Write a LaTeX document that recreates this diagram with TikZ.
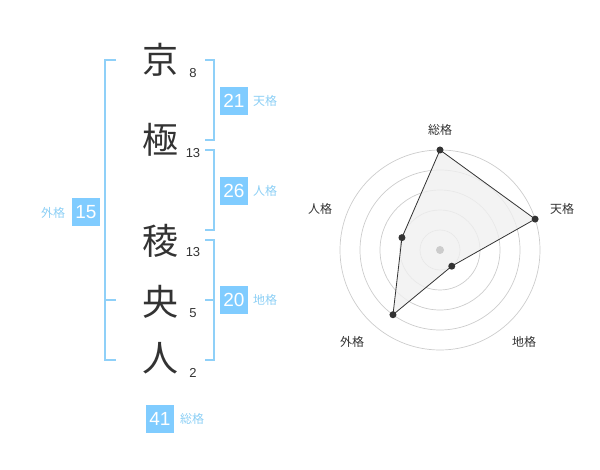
\documentclass[tikz,border=0pt]{standalone}
\usepackage{fontspec}
\setmainfont{Noto Sans CJK JP}
\newfontfamily\numfont{Liberation Sans}
\usetikzlibrary{calc}
\usepackage{xcolor}
\definecolor{kakuBlue}{HTML}{80CCFF}
\definecolor{kakuLine}{HTML}{8FD0F8}
\definecolor{kakuText}{HTML}{8CCFF5}
\definecolor{inkGray}{HTML}{333333}
\definecolor{ringGray}{HTML}{CCCCCC}
\definecolor{fillGray}{HTML}{F0F0F0}

\begin{document}
\begin{tikzpicture}[x=1pt,y=-1pt,
    kanji/.style={font=\fontsize{36}{36}\selectfont, text=inkGray, inner sep=0pt},
    strokes/.style={font=\numfont\fontsize{13}{13}\selectfont, text=inkGray, inner sep=0pt},
    kakubox/.style={fill=kakuBlue, text=white, minimum size=28pt, inner sep=0pt, font=\numfont\fontsize{19}{19}\selectfont},
    kakulabel/.style={text=kakuText, font=\fontsize{12}{12}\selectfont, inner sep=0pt},
    bracket/.style={kakuLine, line width=1.6pt},
    radarlabel/.style={text=inkGray, font=\fontsize{12}{12}\selectfont, inner sep=0pt}]
      \useasboundingbox (0,0) rectangle (600,470);

      % Name
      \foreach \k/\n/\y/\ny [count=\i] in {京/8/60/73,極/13/140/153,稜/13/241/252,央/5/302/313,人/2/358/373}
      {
        \node[kanji] (K\i) at (160,\y) {\k};
        \node[strokes] (S\i) at (193,\ny) {\n};
      }

      % Brackets
      \draw[bracket] (116,60) -- (105,60) -- (105,360) -- (116,360);
      \draw[bracket] (105,300) -- (116,300);
      \draw[bracket] (205,60) -- (214,60) -- (214,140) -- (205,140);
      \draw[bracket] (205,150) -- (214,150) -- (214,230) -- (205,230);
      \draw[bracket] (205,240) -- (214,240) -- (214,360) -- (205,360);
      \draw[bracket] (205,300) -- (214,300);

      % Boxes
      \node[kakubox] (ten) at (234,101) {21};
      \node[kakulabel] (tenL) at ($(ten)+(31,0)$) {天格};
      \node[kakubox] (jin) at (234,191) {26};
      \node[kakulabel] (jinL) at ($(jin)+(31,0)$) {人格};
      \node[kakubox] (chi) at (234,300) {20};
      \node[kakulabel] (chiL) at ($(chi)+(31,0)$) {地格};
      \node[kakubox] (gai) at (86,212) {15};
      \node[kakulabel] (gaiL) at ($(gai)+(-33,1)$) {外格};
      \node[kakubox] (sou) at (160,419) {41};
      \node[kakulabel] (souL) at ($(sou)+(32,0)$) {総格};

      % Radar
      \coordinate (C) at (440,250);
      \foreach \r in {20,40,60,80,100}
      {
        \draw[ringGray, line width=0.7pt] (C) circle (\r);
      }

      \coordinate (Psou) at ($(C)+(-90:100)$);
      \coordinate (Pten) at ($(C)+(-18:100)$);
      \coordinate (Pchi) at ($(C)+(54:20)$);
      \coordinate (Pgai) at ($(C)+(126:80)$);
      \coordinate (Pjin) at ($(C)+(198:40)$);
      \fill[fillGray, fill opacity=0.8] (Psou) -- (Pten) -- (Pchi) -- (Pgai) -- (Pjin) -- cycle;
      \fill[ringGray] (C) circle (4);
      \draw[inkGray, line width=0.8pt] (Psou) -- (Pten) -- (Pchi) -- (Pgai) -- (Pjin) -- cycle;
      \foreach \p in {Psou,Pten,Pchi,Pgai,Pjin}
      {
        \fill[inkGray] (\p) circle (3.5);
      }

      \node[radarlabel] (Rsou) at (440,130) {総格};
      \node[radarlabel] (Rten) at (562,209) {天格};
      \node[radarlabel] (Rchi) at (524,342) {地格};
      \node[radarlabel] (Rgai) at (352,342) {外格};
      \node[radarlabel] (Rjin) at (320,209) {人格};
  \end{tikzpicture}
\end{document}
